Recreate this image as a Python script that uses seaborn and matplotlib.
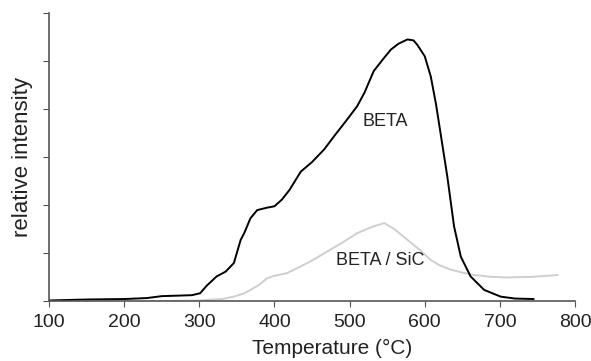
import matplotlib
matplotlib.use("Agg")
import matplotlib.pyplot as plt
import seaborn as sns

# BETA curve (black)
beta_temp = [100, 150, 200, 230, 250, 290, 301, 310, 323, 335, 346, 355, 360, 368, 377,
             390, 400, 410, 420, 435, 450, 466, 480, 495, 510, 520, 532, 545, 555, 565,
             577, 585, 590, 600, 608, 615, 621, 630, 639, 648, 661, 679, 701, 720, 745]
beta_val = [0.02, 0.04, 0.05, 0.07, 0.11, 0.13, 0.17, 0.33, 0.52, 0.62, 0.8, 1.28, 1.43, 1.73, 1.9,
            1.95, 1.98, 2.12, 2.32, 2.7, 2.9, 3.16, 3.45, 3.75, 4.06, 4.35, 4.79, 5.05, 5.24, 5.36,
            5.45, 5.43, 5.34, 5.1, 4.68, 4.1, 3.5, 2.6, 1.56, 0.93, 0.52, 0.24, 0.1, 0.06, 0.05]

# BETA / SiC curve (grey)
sic_temp = [230, 300, 330, 346, 360, 368, 380, 390, 399, 417, 435, 450, 466, 490, 510,
            530, 546, 560, 577, 595, 608, 620, 635, 650, 665, 690, 710, 740, 760, 777]
sic_val = [0.0, 0.02, 0.05, 0.1, 0.17, 0.24, 0.35, 0.48, 0.53, 0.59, 0.73, 0.85, 1.0, 1.22, 1.42,
           1.55, 1.63, 1.5, 1.28, 1.05, 0.86, 0.75, 0.66, 0.6, 0.55, 0.51, 0.5, 0.51, 0.53, 0.55]

x_ticks = [100, 200, 300, 400, 500, 600, 700, 800]
y_ticks = [0, 1, 2, 3, 4, 5, 6]

sns.set_style("ticks")
plt.rcParams["font.family"] = ["Liberation Sans", "DejaVu Sans"]

fig = plt.figure(figsize=(5.91, 3.61), dpi=100)
ax = fig.add_axes([0.083, 0.165, 0.89, 0.799])

sns.lineplot(x=sic_temp, y=sic_val, ax=ax, color="#cfcfcf", linewidth=1.4)
sns.lineplot(x=beta_temp, y=beta_val, ax=ax, color="black", linewidth=1.4)

ax.set_xlim(100, 800)
ax.set_ylim(0, 6)
ax.set_xticks(x_ticks)
ax.set_yticks(y_ticks)
ax.set_yticklabels([])
ax.tick_params(axis="x", labelsize=14, length=4, color="#555555", pad=5, labelcolor="#222222")
ax.tick_params(axis="y", length=4, color="#555555")
for s in ["top", "right"]:
    ax.spines[s].set_visible(False)
for s in ["left", "bottom"]:
    ax.spines[s].set_color("#555555")
    ax.spines[s].set_linewidth(1.2)

ax.set_xlabel("Temperature (°C)", fontsize=15, color="#222222")
ax.xaxis.set_label_coords(0.538, -0.13)
ax.set_ylabel("relative intensity", fontsize=16, labelpad=4, color="#222222")

ax.text(547, 3.75, "BETA", fontsize=13, ha="center", va="center", color="#222222")
ax.text(541, 0.86, "BETA / SiC", fontsize=13, ha="center", va="center", color="#222222")

fig.savefig("out.png", dpi=100)
